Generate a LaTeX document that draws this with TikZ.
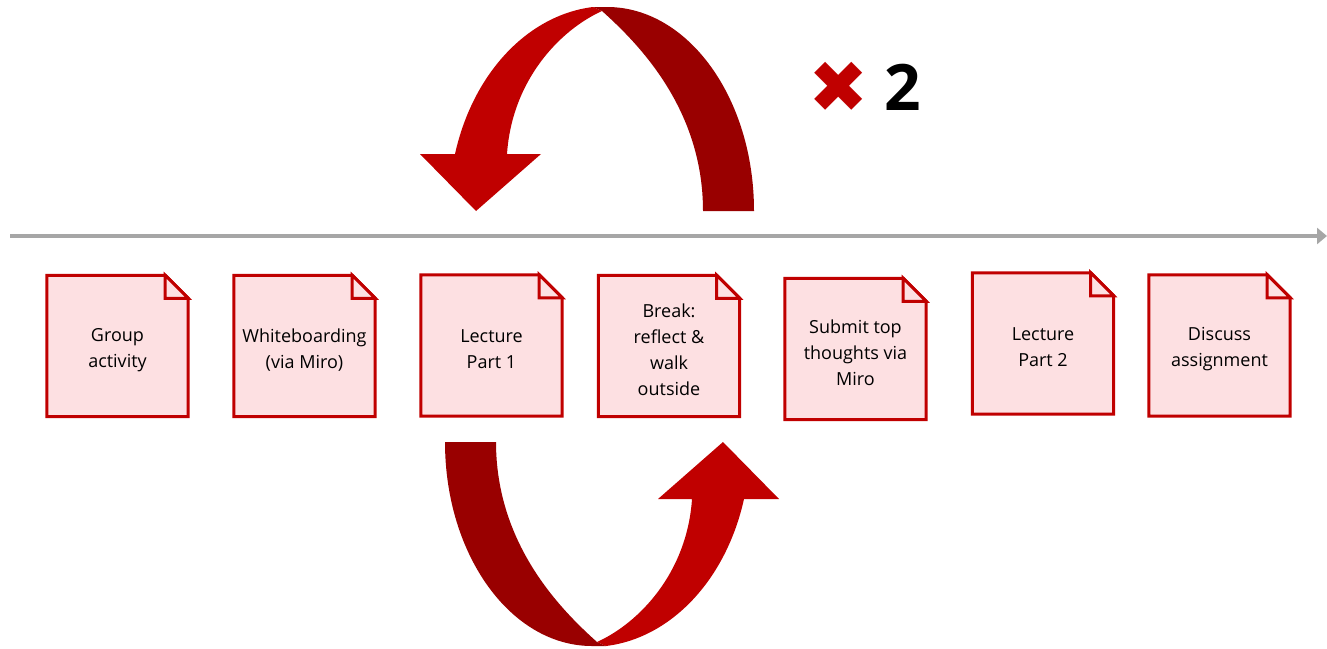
\documentclass[tikz,border=0pt]{standalone}
\usepackage{fontspec}
\setmainfont{Open Sans}
\newfontfamily\symbolfont{DejaVu Sans}
\usetikzlibrary{arrows.meta}
\definecolor{note-line}{HTML}{C00000}
\definecolor{note-fill}{HTML}{FDE0E2}
\definecolor{loop-front}{HTML}{C00000}
\definecolor{loop-back}{HTML}{990000}
\definecolor{time-line}{HTML}{A6A6A6}
\tikzset{
  notebox/.style={
    minimum width=141pt, minimum height=141pt, inner sep=0pt
  },
  noteedge/.style={draw=note-line, fill=note-fill, line width=3pt, line join=miter},
  notetext/.style={align=center, font=\fontsize{18}{26}\selectfont},
  timeline/.style={draw=time-line, line width=4pt, -{Triangle[length=10pt, width=16pt]}}
}
% one turn of the loop: back band (tail) and front band (head)
\newcommand{\looparrow}{%
  \fill[loop-back] (593,7) -- (607,7) .. controls (688,7) and (754,98) .. (754,211)
    -- (703,211) .. controls (703,110) and (640,45) .. (602,11) -- cycle;
  \fill[loop-front] (455,154) .. controls (473,73) and (528,15) .. (593,7)
    -- (602,11) .. controls (560,30) and (512,80) .. (507,154)
    -- (541,154) -- (476,211) -- (420,154) -- cycle;
}

\begin{document}
\begin{tikzpicture}[x=1pt, y=-1pt]
  \useasboundingbox (0,0) rectangle (1327,648);

  % ---- Time line ----------------------------------------------------------
  \coordinate (tl-start) at (10,236);
  \coordinate (tl-end) at (1327,236);
  \draw[timeline] (tl-start) -- (tl-end);

  % ---- Sticky notes along the line ----------------------------------------
  \foreach \n/\x/\y/\txt in {
      1/117.5/346/{Group\\activity},
      2/304.5/346/{Whiteboarding\\(via Miro)},
      3/491.5/345.5/{Lecture\\Part 1},
      4/669/346/{Break:\\reflect \&\\walk\\outside},
      5/855.5/349/{Submit top\\thoughts via\\Miro},
      6/1043/343.5/{Lecture\\Part 2},
      7/1219.5/345.5/{Discuss\\assignment}} {
    \node[notebox] (note\n) at (\x,\y) {};
    \draw[noteedge] (note\n.south west) -- (note\n.north west)
      -- ([xshift=-23pt]note\n.north east) -- ([yshift=-23pt]note\n.north east)
      -- (note\n.south east) -- cycle;
    \draw[noteedge] ([xshift=-23pt]note\n.north east) |- ([yshift=-23pt]note\n.north east) -- cycle;
    \node[notetext] (label\n) at ([yshift=-4pt]note\n.center) {\txt};
  }

  % ---- Repeat loop: above and below (turned half a circle) ----------------
  \looparrow
  \begin{scope}[rotate around={180:(599.5,326.5)}]
    \looparrow
  \end{scope}

  % ---- Repeat count -------------------------------------------------------
  \node[text=loop-front, font=\symbolfont\fontsize{72}{72}\selectfont\bfseries] (times) at (838.5,87.5) {✖};
  \node[font=\fontsize{64}{64}\selectfont\bfseries] (count) at (902.5,87) {2};

\end{tikzpicture}
\end{document}
